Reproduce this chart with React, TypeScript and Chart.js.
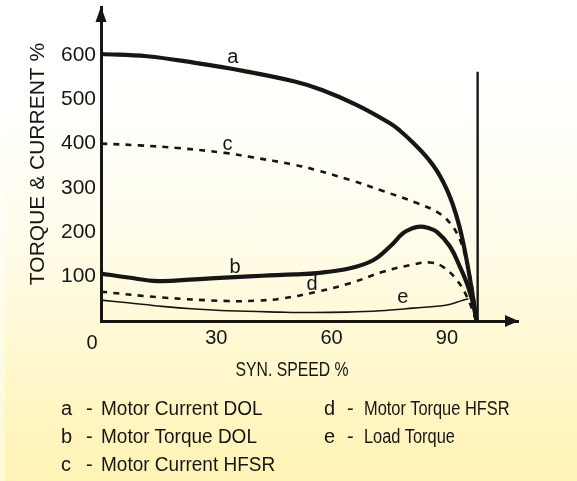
import React, { useEffect, useRef } from "react";
import { Chart, registerables } from "chart.js";

Chart.register(...registerables);

const FONT = '"Liberation Sans", Arial, Helvetica, sans-serif';
const INK = "#161616";

// a - Motor Current DOL
const speedA = [0, 12, 24.5, 37, 50.4, 57.5, 66.6, 75.2, 77.8, 81.2, 84.3, 86.4, 88.2, 90.0, 91.6, 93.2, 94.7, 96.3, 97.7];
const currentDOL = [602, 597, 582, 564, 540, 521, 487, 446, 429, 402, 374, 351, 327, 296, 261, 215, 157, 80, 0];

// b - Motor Torque DOL
const speedB = [0, 7.1, 14.8, 24.5, 34.9, 42, 50.5, 56.2, 64.8, 70.8, 75.2, 78.6, 81, 83, 85, 87.4, 90.8, 93.4, 95.2, 96.8, 97.7];
const torqueDOL = [107, 98, 90, 94, 99, 102, 105, 108, 119, 137, 168, 198, 209, 213, 210, 201, 168, 122, 85, 40, 0];

// c - Motor Current HFSR
const speedC = [0, 10, 20, 32.3, 38.8, 50.5, 56.2, 64.8, 73.4, 82.2, 87.4, 90.8, 93.4, 95.2, 96.8, 97.7];
const currentHFSR = [400, 396, 390, 379, 370, 352, 340, 318, 293, 266, 246, 221, 183, 131, 63, 0];

// d - Motor Torque HFSR
const speedD = [0, 15.9, 33, 41, 47.3, 56.2, 64.8, 73.4, 80.4, 85.6, 89, 92.6, 95.2, 97.7];
const torqueHFSR = [66, 53, 45, 46, 51, 66, 85, 111, 126, 132, 122, 92, 55, 0];

// e - Load Torque
const speedE = [0, 7, 15.9, 24.5, 33, 46.6, 55, 64, 72.6, 81.2, 90, 94.2, 95.6];
const loadTorque = [47, 41, 33, 27, 23, 20, 19, 20, 23, 29, 36, 47, 50];

// synchronous speed marker
const syncSpeed = [98, 98];
const syncLevel = [0, 562];

const xTicks = [30, 60, 90];
const yTicks = [100, 200, 300, 400, 500, 600];
const originLabel = "0";
const xTitle = "SYN. SPEED %";
const yTitle = "TORQUE & CURRENT %";

const curveLetters = ["a", "b", "c", "d", "e"];
const letterSpeed = [34.3, 34.9, 32.9, 54.9, 78.5];
const letterLevel = [594, 121, 399, 83, 53];

const legendLeft = [
  ["a", "Motor Current DOL"],
  ["b", "Motor Torque DOL"],
  ["c", "Motor Current HFSR"],
];
const legendRight = [
  ["d", "Motor Torque HFSR"],
  ["e", "Load Torque"],
];

const decorPlugin = {
  id: "decor",
  afterDraw(chart: any) {
    const { ctx, chartArea, scales } = chart;
    const xs = scales.x;
    const ys = scales.y;
    ctx.save();
    ctx.fillStyle = INK;
    // y arrow
    const ax = chartArea.left;
    ctx.beginPath();
    ctx.moveTo(ax, chartArea.top - 0.5);
    ctx.lineTo(ax - 5.5, chartArea.top + 15);
    ctx.lineTo(ax + 5.5, chartArea.top + 15);
    ctx.closePath();
    ctx.fill();
    // x arrow
    const ay = chartArea.bottom;
    ctx.beginPath();
    ctx.moveTo(chartArea.right + 0.5, ay);
    ctx.lineTo(chartArea.right - 13, ay - 6);
    ctx.lineTo(chartArea.right - 13, ay + 6);
    ctx.closePath();
    ctx.fill();

    // curve letters
    ctx.font = `20px ${FONT}`;
    ctx.textAlign = "center";
    ctx.textBaseline = "middle";
    curveLetters.forEach((t, i) => {
      ctx.fillText(t, xs.getPixelForValue(letterSpeed[i]), ys.getPixelForValue(letterLevel[i]));
    });

    // origin label
    ctx.textBaseline = "alphabetic";
    ctx.fillText(originLabel, xs.getPixelForValue(0) - 9, chartArea.bottom + 28);

    // x title (condensed)
    ctx.save();
    ctx.font = `21px ${FONT}`;
    ctx.translate(292, chartArea.bottom + 54.5);
    ctx.scale(0.75, 1);
    ctx.textAlign = "center";
    ctx.fillText(xTitle, 0, 0);
    ctx.restore();
    ctx.restore();
  },
};

export default function App() {
  const ref = useRef<HTMLCanvasElement>(null);

  useEffect(() => {
    const canvas = ref.current;
    if (!canvas) return;
    const pts = (xs: number[], ys: number[]) => xs.map((x, i) => ({ x, y: ys[i] }));
    const line = (label: string, xs: number[], ys: number[], width: number, dash: number[] = [], tension = 0.4) => ({
      label,
      data: pts(xs, ys),
      borderColor: INK,
      borderWidth: width,
      borderDash: dash,
      pointRadius: 0,
      tension,
      fill: false,
    });

    const chart = new Chart(canvas, {
      type: "line",
      data: {
        datasets: [
          line("Motor Current DOL", speedA, currentDOL, 4.2),
          line("Motor Torque DOL", speedB, torqueDOL, 4.2),
          line("Motor Current HFSR", speedC, currentHFSR, 2.6, [6, 6.3]),
          line("Motor Torque HFSR", speedD, torqueHFSR, 2.6, [6, 6.3]),
          line("Load Torque", speedE, loadTorque, 1.6),
          line("Synchronous speed", syncSpeed, syncLevel, 2.4, [], 0),
        ],
      },
      options: {
        animation: false,
        responsive: false,
        devicePixelRatio: 1,
        layout: { padding: { left: 0, top: 7, right: 59, bottom: 0 } },
        plugins: { legend: { display: false }, tooltip: { enabled: false } },
        scales: {
          x: {
            type: "linear",
            min: 0,
            max: 108.5,
            afterBuildTicks: (s: any) => {
              s.ticks = xTicks.map((v) => ({ value: v }));
            },
            afterFit: (s: any) => {
              s.height = 160;
              s.paddingLeft = 0;
              s.paddingRight = 0;
            },
            grid: { display: true, drawOnChartArea: false, drawTicks: false, color: "rgba(0,0,0,0)" },
            border: { display: true, color: INK, width: 3 },
            ticks: { font: { family: FONT, size: 20 }, color: INK, padding: 5, maxRotation: 0, autoSkip: false },
          },
          y: {
            type: "linear",
            min: 0,
            max: 708,
            afterBuildTicks: (s: any) => {
              s.ticks = yTicks.map((v) => ({ value: v }));
            },
            afterFit: (s: any) => {
              s.width = 101;
              s.paddingTop = 0;
              s.paddingBottom = 0;
            },
            grid: { display: true, drawOnChartArea: false, drawTicks: false, color: "rgba(0,0,0,0)" },
            border: { display: true, color: INK, width: 3 },
            ticks: { font: { family: FONT, size: 21 }, color: INK, padding: 5, autoSkip: false },
            title: {
              display: true,
              text: yTitle,
              font: { family: FONT, size: 21 },
              color: INK,
              padding: { top: 25.4, bottom: 0 },
            },
          },
        },
      },
      plugins: [decorPlugin],
    });
    return () => chart.destroy();
  }, []);

  const rowTop = [398, 426, 454];
  const span = (left: number, top: number, text: string, sx = 1) => (
    <span
      key={`${left}-${top}-${text}`}
      style={{
        position: "absolute",
        left,
        top,
        fontSize: 20,
        lineHeight: "20px",
        whiteSpace: "nowrap",
        transform: `scaleX(${sx})`,
        transformOrigin: "left center",
      }}
    >
      {text}
    </span>
  );

  return (
    <div
      style={{
        position: "absolute",
        left: 0,
        top: 0,
        width: 577,
        height: 481,
        overflow: "hidden",
        fontFamily: FONT,
        color: INK,
        background:
          "linear-gradient(to bottom, #ffffff 0%, #fffffb 25%, #fffcea 50%, #fff9d4 70%, #fff5bf 88%, #fff3b6 100%)",
      }}
    >
      <div style={{ position: "absolute", left: 0, top: 0, width: 5, height: 481, background: "rgba(255,255,255,0.45)" }} />
      <canvas ref={ref} width={577} height={481} style={{ position: "absolute", left: 0, top: 0 }} />
      {legendLeft.map(([k, t], i) => [
        span(61, rowTop[i], k),
        span(86, rowTop[i], "-"),
        span(100.5, rowTop[i], t, 0.95),
      ])}
      {legendRight.map(([k, t], i) => [
        span(324, rowTop[i], k),
        span(347, rowTop[i], "-"),
        span(363.5, rowTop[i], t, 0.82),
      ])}
    </div>
  );
}
